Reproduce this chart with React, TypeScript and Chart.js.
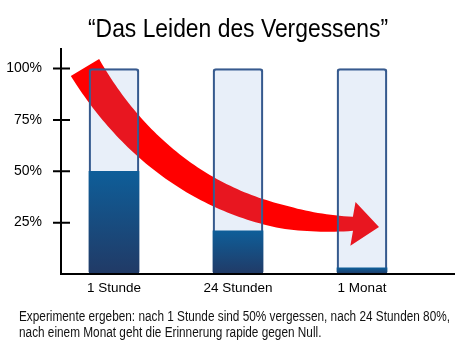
import React, { useEffect, useRef } from 'react';
import { Chart, registerables } from 'chart.js';

Chart.register(...registerables);

const FONT = "'Liberation Sans', Arial, sans-serif";

const categories = ['1 Stunde', '24 Stunden', '1 Monat'];
const remembered = [50, 21, 3];
const capacity = [100, 100, 100];
const yTicks = [25, 50, 75, 100];
const titleText = '\u201CDas Leiden des Vergessens\u201D';
const captionLines = [
  'Experimente ergeben: nach 1 Stunde sind 50% vergessen, nach 24 Stunden 80%,',
  'nach einem Monat geht die Erinnerung rapide gegen Null.',
];

// Curved arrow in data coordinates (x: category index, y: percent)
const arrowStart = { x: -0.234, y: 100.5 };
const arrowCtrl1 = { x: 0.21, y: 55.6 };
const arrowCtrl2 = { x: 0.935, y: 23.9 };
const arrowEnd = { x: 1.927, y: 24.4 };
const arrowTip = { x: 2.137, y: 22.9 };

const decorPlugin = {
  id: 'decor',
  beforeDatasetsDraw(chart: any) {
    const { ctx } = chart;
    const xs = chart.scales.x;
    const ys = chart.scales.y;
    const P = (p: { x: number; y: number }) => ({ x: xs.getPixelForValue(p.x), y: ys.getPixelForValue(p.y) });
    const p0 = P(arrowStart), p1 = P(arrowCtrl1), p2 = P(arrowCtrl2), p3 = P(arrowEnd), tip = P(arrowTip);
    const N = 80;
    const sideA: number[][] = [];
    const sideB: number[][] = [];
    for (let i = 0; i <= N; i++) {
      const t = i / N;
      const mt = 1 - t;
      const bx = mt * mt * mt * p0.x + 3 * mt * mt * t * p1.x + 3 * mt * t * t * p2.x + t * t * t * p3.x;
      const by = mt * mt * mt * p0.y + 3 * mt * mt * t * p1.y + 3 * mt * t * t * p2.y + t * t * t * p3.y;
      const dx = 3 * mt * mt * (p1.x - p0.x) + 6 * mt * t * (p2.x - p1.x) + 3 * t * t * (p3.x - p2.x);
      const dy = 3 * mt * mt * (p1.y - p0.y) + 6 * mt * t * (p2.y - p1.y) + 3 * t * t * (p3.y - p2.y);
      const len = Math.hypot(dx, dy) || 1;
      const nx = -dy / len;
      const ny = dx / len;
      const w = (t <= 0.8 ? 33 - 12 * t : 23.4 - ((t - 0.8) / 0.2) * 9.4) / 2;
      sideA.push([bx + nx * w, by + ny * w]);
      sideB.push([bx - nx * w, by - ny * w]);
    }
    const hx0 = tip.x - p3.x, hy0 = tip.y - p3.y;
    const hl = Math.hypot(hx0, hy0) || 1;
    const px = -hy0 / hl, py = hx0 / hl;
    const hw = 22;
    ctx.save();
    ctx.fillStyle = '#FF0000';
    ctx.beginPath();
    sideA.forEach((p, i) => (i === 0 ? ctx.moveTo(p[0], p[1]) : ctx.lineTo(p[0], p[1])));
    ctx.lineTo(p3.x + px * hw, p3.y + py * hw);
    ctx.lineTo(tip.x, tip.y);
    ctx.lineTo(p3.x - px * hw, p3.y - py * hw);
    for (let i = sideB.length - 1; i >= 0; i--) ctx.lineTo(sideB[i][0], sideB[i][1]);
    ctx.closePath();
    ctx.fill();
    ctx.restore();
  },
  afterDatasetsDraw(chart: any) {
    const { ctx, chartArea } = chart;
    const ys = chart.scales.y;
    const left = chartArea.left;
    const right = chartArea.right;
    const top = ys.getPixelForValue(ys.max);
    const bottom = ys.getPixelForValue(0);
    ctx.save();
    ctx.strokeStyle = '#000';
    ctx.lineWidth = 2;
    ctx.beginPath();
    ctx.moveTo(left, top);
    ctx.lineTo(left, bottom);
    ctx.lineTo(right, bottom);
    ys.ticks.forEach((t: any) => {
      const py = ys.getPixelForValue(t.value);
      ctx.moveTo(left - 8, py);
      ctx.lineTo(left + 9, py);
    });
    ctx.stroke();
    ctx.restore();
  },
  afterDraw(chart: any) {
    const { ctx } = chart;
    ctx.save();
    ctx.fillStyle = '#000';
    ctx.textBaseline = 'alphabetic';
    ctx.font = `26px ${FONT}`;
    ctx.textAlign = 'center';
    ctx.fillText(titleText, 238, 37, 300);
    ctx.font = `14px ${FONT}`;
    ctx.textAlign = 'left';
    ctx.fillStyle = '#111';
    const w1 = ctx.measureText(captionLines[0]).width;
    const f = 431 / w1;
    captionLines.forEach((line, i) => {
      const w = ctx.measureText(line).width * f;
      ctx.fillText(line, 19, 321 + i * 16, w);
    });
    ctx.restore();
  },
};

export default function App() {
  const ref = useRef<HTMLCanvasElement | null>(null);
  useEffect(() => {
    if (!ref.current) return;
    const chart = new Chart(ref.current, {
      type: 'bar',
      data: {
        datasets: [
          {
            label: 'Erinnert',
            data: remembered.map((v, i) => ({ x: i, y: v })),
            order: 0,
            grouped: false,
            barThickness: 50,
            borderWidth: 0,
            borderSkipped: false,
            borderRadius: { topLeft: 0, topRight: 0, bottomLeft: 3, bottomRight: 3 },
            backgroundColor: (c: any) => {
              const chart = c.chart;
              if (!chart.chartArea || c.type !== 'data') return '#15528a';
              const ys = chart.scales.y;
              const top = ys.getPixelForValue(c.parsed.y);
              const bottom = ys.getPixelForValue(0);
              const g = chart.ctx.createLinearGradient(0, top, 0, bottom);
              g.addColorStop(0, '#0E5E99');
              g.addColorStop(1, '#213A66');
              return g;
            },
          } as any,
          {
            label: 'Kapazität',
            data: capacity.map((v, i) => ({ x: i, y: v })),
            order: 1,
            grouped: false,
            barThickness: 50,
            borderWidth: 1.6,
            borderColor: '#36598C',
            borderSkipped: false,
            borderRadius: 3,
            backgroundColor: 'rgba(100,145,215,0.15)',
          } as any,
        ],
      },
      options: {
        responsive: false,
        animation: false,
        events: [],
        layout: { padding: { top: 48, right: 15, left: 0, bottom: 0 } },
        plugins: { legend: { display: false }, tooltip: { enabled: false }, title: { display: false } },
        scales: {
          x: {
            type: 'linear',
            offset: false,
            min: -0.4274,
            max: 2.75,
            grid: { display: false, drawTicks: false, offset: false },
            border: { display: false },
            afterBuildTicks: (s: any) => {
              s.ticks = categories.map((_, i) => ({ value: i }));
            },
            afterFit: (s: any) => {
              s.height = 81;
            },
            ticks: {
              padding: 6,
              color: '#000',
              font: { family: FONT, size: 13.5 },
              callback: (v: any) => categories[Math.round(Number(v))] ?? '',
            },
          },
          y: {
            type: 'linear',
            min: 0,
            max: 110,
            grid: { display: false, drawTicks: false },
            border: { display: false },
            afterBuildTicks: (s: any) => {
              s.ticks = yTicks.map((v) => ({ value: v }));
            },
            afterFit: (s: any) => {
              s.width = 61;
            },
            ticks: {
              padding: 19,
              color: '#000',
              font: { family: FONT, size: 14 },
              callback: (v: any) => `${v}%`,
            },
          },
        },
      },
      plugins: [decorPlugin],
    } as any);
    return () => chart.destroy();
  }, []);
  return (
    <div style={{ position: 'absolute', left: 0, top: 0, width: 470, height: 355, background: '#fff' }}>
      <canvas ref={ref} width={470} height={355} style={{ display: 'block' }} />
    </div>
  );
}
